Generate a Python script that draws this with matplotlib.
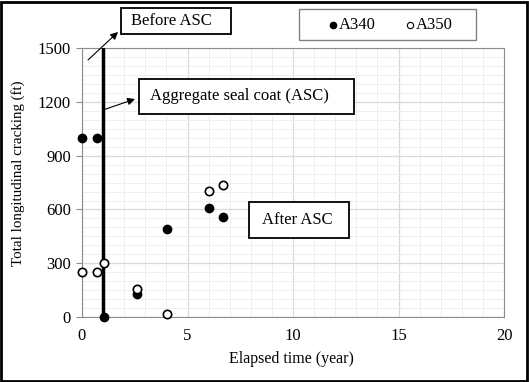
import matplotlib.pyplot as plt
import numpy as np
from matplotlib.ticker import MultipleLocator
from matplotlib.patches import Rectangle, FancyArrowPatch

plt.rcParams['font.family'] = ['Liberation Serif', 'DejaVu Serif']

# 數據
x_a340 = [0, 0.7, 1.05, 2.6, 4.05, 6.0, 6.7]
y_a340 = [1000, 1000, 0, 127, 490, 610, 558]
x_a350 = [0, 0.7, 1.05, 2.6, 4.05, 6.0, 6.7]
y_a350 = [252, 252, 302, 155, 15, 705, 737]
asc_year = 1.0

W, H = 529, 382
fig = plt.figure(figsize=(W / 100, H / 100), dpi=100)
ax = fig.add_axes([0.155, 0.170, 0.798, 0.704])


# 像素座標轉成 figure 比例
def fx(px):
    return px / W


def fy(py):
    return 1 - py / H


ax.set_xlim(0, 20)
ax.set_ylim(0, 1500)
ax.xaxis.set_major_locator(MultipleLocator(5))
ax.xaxis.set_minor_locator(MultipleLocator(1))
ax.yaxis.set_major_locator(MultipleLocator(300))
ax.yaxis.set_minor_locator(MultipleLocator(50))
ax.grid(which='major', color='#d9d9d9', lw=0.9)
ax.grid(which='minor', color='#efefef', lw=0.7)
ax.set_axisbelow(True)
for s in ax.spines.values():
    s.set_color('#8c8c8c')
ax.tick_params(axis='x', which='both', length=0, labelsize=12, pad=8)
ax.tick_params(axis='y', which='major', length=4, color='#8c8c8c', labelsize=12, pad=4)
ax.tick_params(axis='y', which='minor', length=0)

ax.plot([asc_year, asc_year], [0, 1500], color='black', lw=2.5, zorder=3)

ax.scatter(x_a340, y_a340, s=36, facecolor='black', edgecolor='black', zorder=4, clip_on=False)
ax.scatter(x_a350, y_a350, s=36, facecolor='white', edgecolor='black', lw=1.2, zorder=4, clip_on=False)

ax.set_xlabel('Elapsed time (year)', fontsize=11.5)
ax.xaxis.set_label_coords(0.495, -0.126)
ax.set_ylabel('Total longitudinal cracking (ft)', fontsize=10.8)
ax.yaxis.set_label_coords(-0.135, 0.535)


# 文字框
def text_box(x0, y0, x1, y1, tx, label, ec='black', lw=1.3):
    fig.patches.append(Rectangle((fx(x0), fy(y1)), fx(x1) - fx(x0), fy(y0) - fy(y1),
                                 transform=fig.transFigure, fc='white', ec=ec, lw=lw, zorder=5))
    if label:
        fig.text(fx(tx), fy((y0 + y1) / 2), label, fontsize=12, va='center', ha='left', zorder=6)


def arrow(x0, y0, x1, y1):
    fig.patches.append(FancyArrowPatch((fx(x0), fy(y0)), (fx(x1), fy(y1)), transform=fig.transFigure,
                                       arrowstyle='-|>', mutation_scale=11, color='black', lw=0.8,
                                       shrinkA=0, shrinkB=0, zorder=6))


text_box(121, 8, 231, 34, 131, 'Before ASC')
arrow(88, 60, 118, 32)
text_box(139, 79, 354, 114, 150, 'Aggregate seal coat (ASC)')
arrow(103, 110, 135, 99)
text_box(249, 202, 349, 238, 262, 'After ASC')

# 圖例
text_box(299, 9, 476, 40, 0, None, ec='#808080', lw=1.0)
fig.lines.append(plt.Line2D([fx(333)], [fy(25)], transform=fig.transFigure, ls='', marker='o',
                            ms=4.5, mfc='black', mec='black', zorder=6))
fig.text(fx(339), fy(25), 'A340', fontsize=12, va='center', zorder=6)
fig.lines.append(plt.Line2D([fx(410)], [fy(25)], transform=fig.transFigure, ls='', marker='o',
                            ms=4.5, mfc='white', mec='black', mew=0.8, zorder=6))
fig.text(fx(416), fy(25), 'A350', fontsize=12, va='center', zorder=6)

fig.patches.append(Rectangle((0.002, 0.003), 0.995, 0.993, transform=fig.transFigure,
                             fill=False, ec='black', lw=2))

fig.savefig('out.png', dpi=100)
